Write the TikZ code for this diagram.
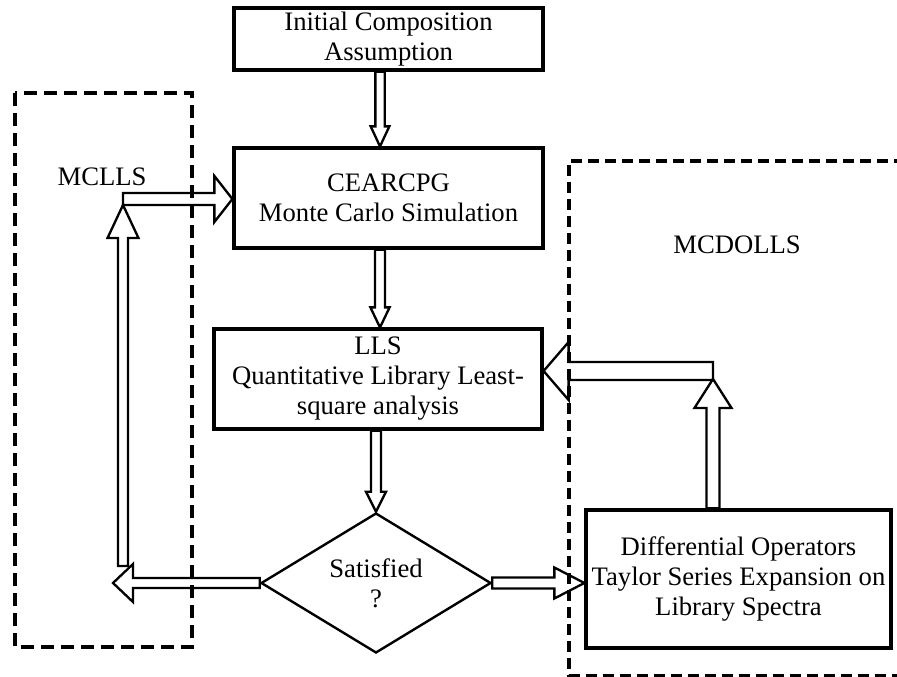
\documentclass[tikz,border=0pt]{standalone}
\usepackage{fontspec}
\setmainfont{Liberation Serif}
\usetikzlibrary{calc,shapes.geometric}
\newcommand\blockarrow[5]{%
  \coordinate (bac) at ($(#2)!#5!(#1)$);
  \draw[barrow] ($(#1)!#3!90:(#2)$) -- ($(bac)!#3!90:(#2)$) -- ($(bac)!#4!90:(#2)$) -- (#2) -- ($(bac)!#4!-90:(#2)$) -- ($(bac)!#3!-90:(#2)$) -- ($(#1)!#3!-90:(#2)$) -- cycle;
}
\tikzset{
  txt/.style={font=\fontsize{20}{22.5}\selectfont},
  box/.style={draw, line width=2.4pt, align=center, inner sep=2pt, txt},
  barrow/.style={draw, line width=1.75pt, line join=miter},
  dboxL/.style={draw, line width=2.6pt, dash pattern=on 9.75pt off 5.25pt},
  dboxR/.style={draw, line width=2.3pt, dash pattern=on 8.25pt off 4.5pt},
}
\begin{document}
\begin{tikzpicture}[x=0.75pt,y=-0.75pt]
\useasboundingbox (0,0) rectangle (897,677);
\fill[white] (0,0) rectangle (897,677);
\clip (0,0) rectangle (897,677);
% dashed group frames
\draw[dboxL] (15,93) rectangle (192,647);
\draw[dboxR] (905,161) -- (569,161) -- (569,675.5) -- (905,675.5);
% nodes
\node[box, minimum width=231.75pt, minimum height=46.5pt] (top) at (388.5,39) {Initial Composition\\Assumption};
\node[box, minimum width=231.75pt, minimum height=75pt] (mc) at (388.5,198) {CEARCPG\\Monte Carlo Simulation};
\node[box, minimum width=246pt, minimum height=75pt] (lls) at (378,379) {LLS\\Quantitative Library Least-\\square analysis};
\node[draw, diamond, aspect=1.64, inner sep=0pt, minimum width=172.5pt, minimum height=105pt, line width=1.8pt, txt, align=center] (dec) at (376,583) {Satisfied\\?};
\node[box, minimum width=228.75pt, minimum height=103.5pt] (diff) at (738.5,579) {Differential Operators\\Taylor Series Expansion on\\Library Spectra};
\node[txt] (mclls) at (102,177) {MCLLS};
\node[txt] (mcdolls) at (737,245) {MCDOLLS};
% helper coordinates
\coordinate (ax) at (380,0);
\coordinate (tipL) at (113,583);
\coordinate (cLb) at (123,566);
\coordinate (cLt) at (123,205);
\coordinate (cL) at (123,199);
\coordinate (cR) at (713,371);
\coordinate (cRt) at (713,379);
\coordinate (a1s) at (top.south -| ax);
\coordinate (a1e) at (mc.north -| ax);
\coordinate (a2s) at (mc.south -| ax);
\coordinate (a2e) at (lls.north -| ax);
\coordinate (a3s) at (lls.south -| dec.north);
\coordinate (a6e) at (mc.west |- cL);
\coordinate (a7e) at (diff.west |- dec.east);
\coordinate (a8s) at (diff.north -| cR);
\coordinate (a9e) at (lls.east |- cR);
% connectors
\blockarrow{a1s}{a1e}{3.5pt}{7pt}{15pt}
\blockarrow{a2s}{a2e}{3.75pt}{7.2pt}{15pt}
\blockarrow{a3s}{dec.north}{3.75pt}{7.5pt}{15pt}
\blockarrow{dec.west}{tipL}{3.75pt}{14.25pt}{15pt}
\blockarrow{cLb}{cLt}{3.75pt}{11.6pt}{24.75pt}
\blockarrow{cL}{a6e}{4.5pt}{17.25pt}{13.5pt}
\blockarrow{dec.east}{a7e}{4.1pt}{11.6pt}{22.5pt}
\blockarrow{a8s}{cRt}{4.9pt}{13.9pt}{21.75pt}
\blockarrow{cR}{a9e}{6.75pt}{21.75pt}{18.75pt}
\end{tikzpicture}
\end{document}
